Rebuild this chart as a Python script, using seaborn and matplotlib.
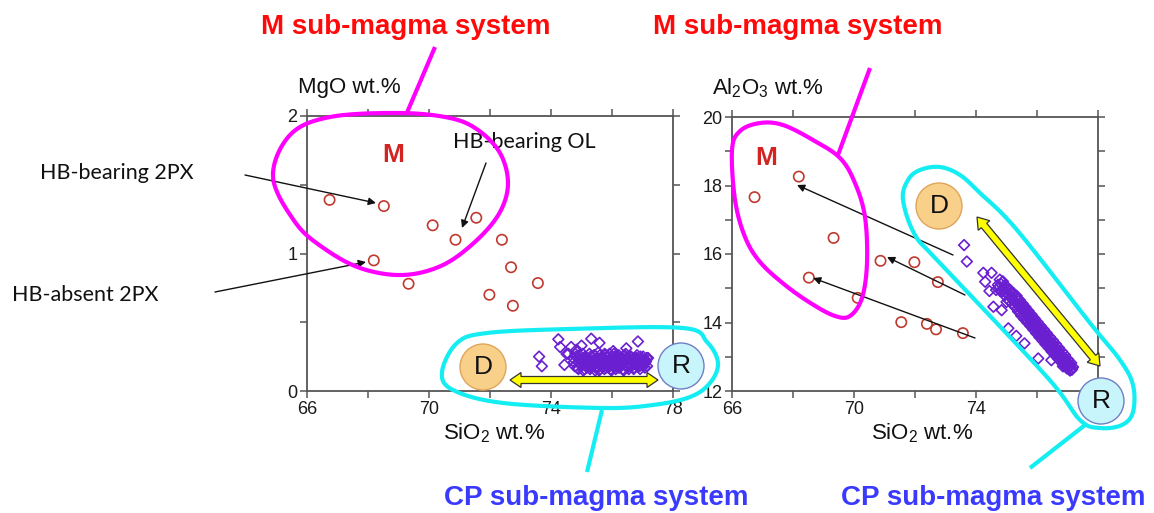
import numpy as np
import pandas as pd
import matplotlib
matplotlib.use("Agg")
import matplotlib.pyplot as plt
import seaborn as sns
from matplotlib.patches import Circle, Polygon
from matplotlib.lines import Line2D
from matplotlib.transforms import IdentityTransform

# ---------------------------------------------------------------- data
# M sub-magma system (open circles)
m_sio2 = [66.74, 68.19, 68.52, 69.33, 70.12, 70.87, 71.55, 71.98, 72.39, 72.69, 72.75, 73.57]
m_mgo = [1.39, 0.95, 1.345, 0.78, 1.205, 1.10, 1.26, 0.70, 1.10, 0.90, 0.62, 0.785]
m_al2o3 = [17.66, 18.26, 15.31, 16.47, 14.72, 15.80, 14.01, 15.76, 13.96, 13.80, 15.18, 13.69]

# CP sub-magma system (open diamonds)
cp_sio2 = [
    73.61, 73.70, 74.24, 74.51, 74.30, 74.44, 74.57, 74.84, 75.06, 75.32, 75.59, 76.04,
    76.85, 76.47, 77.08, 74.66, 75.00,
    74.72, 74.78, 74.80, 74.88, 74.90, 74.93, 75.00, 75.02, 75.06, 75.12, 75.15, 75.18,
    75.22, 75.26, 75.28, 75.33, 75.36, 75.38, 75.43, 75.46, 75.48, 75.53, 75.55, 75.58,
    75.62, 75.66, 75.68, 75.72, 75.75, 75.78, 75.82, 75.85, 75.88, 75.92, 75.95, 75.98,
    76.02, 76.05, 76.08, 76.12, 76.15, 76.18, 76.22, 76.25, 76.28, 76.32, 76.35, 76.38,
    76.42, 76.45, 76.48, 76.52, 76.55, 76.58, 76.62, 76.65, 76.68, 76.72, 76.75, 76.78,
    76.82, 76.85, 76.88, 76.92, 76.95, 76.98, 77.02, 77.05, 77.08, 77.12, 77.15, 77.18,
    74.75, 74.82, 74.86, 74.95, 74.97, 75.04, 75.09, 75.10, 75.17, 75.20, 75.24, 75.30,
    75.31, 75.35, 75.40, 75.41, 75.45, 75.50, 75.51, 75.57, 75.60, 75.61, 75.65, 75.70,
    75.71, 75.76, 75.80, 75.81, 75.86, 75.90, 75.91, 75.96, 76.00, 76.01, 76.06, 76.10,
    76.11, 76.16, 76.20, 76.21, 76.26, 76.30, 76.31, 76.36, 76.40, 76.41, 76.46, 76.50,
    76.51, 76.56, 76.60, 76.61, 76.66, 76.70, 76.71, 76.76, 76.80, 76.81, 76.86, 76.90,
    76.93, 76.97, 77.00, 77.03, 77.10, 77.14,
]
cp_mgo = [
    0.25, 0.18, 0.376, 0.27, 0.32, 0.19, 0.27, 0.30, 0.23, 0.38, 0.35, 0.29,
    0.36, 0.31, 0.22, 0.32, 0.33,
    0.24, 0.18, 0.27, 0.21, 0.16, 0.26, 0.19, 0.23, 0.15, 0.25, 0.20, 0.17,
    0.22, 0.27, 0.16, 0.19, 0.24, 0.21, 0.26, 0.17, 0.22, 0.20, 0.28, 0.15,
    0.23, 0.18, 0.25, 0.21, 0.16, 0.26, 0.19, 0.24, 0.17, 0.27, 0.20, 0.15,
    0.22, 0.18, 0.25, 0.16, 0.23, 0.20, 0.26, 0.17, 0.22, 0.19, 0.24, 0.15,
    0.21, 0.27, 0.18, 0.23, 0.16, 0.20, 0.25, 0.19, 0.22, 0.17, 0.24, 0.20,
    0.26, 0.18, 0.21, 0.16, 0.23, 0.19, 0.25, 0.20, 0.17, 0.22, 0.18, 0.24,
    0.21, 0.25, 0.17, 0.23, 0.19, 0.27, 0.21, 0.16, 0.24, 0.18, 0.20, 0.25,
    0.17, 0.22, 0.19, 0.26, 0.15, 0.23, 0.18, 0.21, 0.26, 0.16, 0.24, 0.19,
    0.22, 0.27, 0.17, 0.21, 0.25, 0.19, 0.23, 0.16, 0.24, 0.20, 0.27, 0.18,
    0.22, 0.25, 0.17, 0.21, 0.24, 0.19, 0.23, 0.16, 0.22, 0.26, 0.19, 0.24,
    0.17, 0.21, 0.18, 0.25, 0.22, 0.20, 0.16, 0.23, 0.19, 0.24, 0.21, 0.18,
    0.25, 0.20, 0.22, 0.18, 0.21, 0.24,
]
cp_al2o3 = [
    16.26, 15.78, 15.45, 15.45, 15.19, 14.92, 14.46, 14.36, 13.83, 13.61, 13.39, 12.95,
    12.72, 12.90, 12.61, 14.95, 14.60,
    15.10, 15.25, 14.92, 15.20, 14.98, 14.80, 15.05, 14.86, 14.66, 14.95, 14.74, 14.55,
    14.86, 14.62, 14.45, 14.78, 14.53, 14.32, 14.66, 14.44, 14.20, 14.55, 14.33, 14.10,
    14.45, 14.22, 14.00, 14.34, 14.10, 13.90, 14.23, 14.00, 13.79, 14.12, 13.89, 13.68,
    14.01, 13.78, 13.57, 13.90, 13.67, 13.47, 13.80, 13.57, 13.36, 13.69, 13.46, 13.26,
    13.58, 13.35, 13.15, 13.48, 13.25, 13.05, 13.37, 13.14, 12.95, 13.26, 13.03, 12.85,
    13.15, 12.93, 12.75, 13.05, 12.82, 12.66, 12.92, 12.72, 12.60, 12.82, 12.65, 12.70,
    15.02, 15.12, 14.90, 15.08, 14.88, 14.95, 14.80, 14.62, 14.85, 14.66, 14.50, 14.72,
    14.58, 14.40, 14.62, 14.48, 14.30, 14.48, 14.38, 14.20, 14.40, 14.28, 14.08, 14.28,
    14.18, 13.98, 14.16, 14.06, 13.90, 14.06, 13.96, 13.80, 13.92, 13.85, 13.68, 13.84,
    13.74, 13.58, 13.72, 13.63, 13.47, 13.62, 13.52, 13.36, 13.50, 13.42, 13.25, 13.40,
    13.31, 13.16, 13.28, 13.20, 13.04, 13.18, 13.08, 12.94, 13.06, 12.98, 12.84, 12.96,
    12.88, 12.74, 12.85, 12.66, 12.74, 12.62,
]

x_major = [66, 70, 74, 78]
x_minor = [68, 72, 76]
mgo_major = [0, 1, 2]
mgo_minor = [0.5, 1.5]
al_major = [12, 14, 16, 18, 20]
al_minor = [13, 15, 17, 19]

m_df = pd.DataFrame({"SiO2": m_sio2, "MgO": m_mgo, "Al2O3": m_al2o3})
cp_df = pd.DataFrame({"SiO2": cp_sio2, "MgO": cp_mgo, "Al2O3": cp_al2o3})

# ---------------------------------------------------------------- style
W, H = 1154, 513
sns.set_theme(style="ticks")
plt.rcParams["font.family"] = ["Liberation Sans", "DejaVu Sans"]
plt.rcParams["mathtext.fontset"] = "custom"
plt.rcParams["mathtext.rm"] = "Liberation Sans"
plt.rcParams["mathtext.it"] = "Liberation Sans:italic"
plt.rcParams["mathtext.default"] = "rm"

RED_PT = "#c0392f"
PURPLE = "#6a1fd0"
MAGENTA = "#ff00ff"
CYAN = "#14eef2"
TITLE_RED = "#ff0a0a"
TITLE_BLUE = "#3a3aff"
SPINE = "#555555"

fig = plt.figure(figsize=(W / 100, H / 100), dpi=100)
fig.patch.set_facecolor("white")


def fx(x):
    return x / W


def fy(y):
    return 1 - y / H


ax1 = fig.add_axes([fx(307), fy(391), 366 / W, 275 / H])
ax2 = fig.add_axes([fx(732), fy(391), 366 / W, 274 / H])


def style_axes(ax, ymajor, yminor, ylim, xlabels):
    ax.set_xlim(66, 78)
    ax.set_ylim(*ylim)
    ax.set_xticks(x_major)
    ax.set_xticklabels(xlabels)
    ax.set_xticks(x_minor, minor=True)
    ax.set_yticks(ymajor)
    ax.set_yticks(yminor, minor=True)
    ax.tick_params(which="both", direction="out", length=5, width=1.1,
                   color=SPINE, top=True, right=True, labelsize=13,
                   labelcolor="#1a1a1a", pad=2)
    for s in ax.spines.values():
        s.set_color(SPINE)
        s.set_linewidth(1.3)
    ax.set_xlabel("")
    ax.set_ylabel("")
    ax.set_facecolor("white")


# MgO vs SiO2
sns.scatterplot(data=m_df, x="SiO2", y="MgO", ax=ax1, marker="o", s=55,
                facecolor="none", edgecolor=RED_PT, linewidth=1.2, zorder=3)
sns.scatterplot(data=cp_df, x="SiO2", y="MgO", ax=ax1, marker="D", s=30,
                facecolor="none", edgecolor=PURPLE, linewidth=1.2, zorder=3)
style_axes(ax1, mgo_major, mgo_minor, (0, 2), ["66", "70", "74", "78"])

# Al2O3 vs SiO2 (the 78 label sits under the R end-member disc)
sns.scatterplot(data=m_df, x="SiO2", y="Al2O3", ax=ax2, marker="o", s=55,
                facecolor="none", edgecolor=RED_PT, linewidth=1.2, zorder=3)
sns.scatterplot(data=cp_df, x="SiO2", y="Al2O3", ax=ax2, marker="D", s=30,
                facecolor="none", edgecolor=PURPLE, linewidth=1.2, zorder=3)
style_axes(ax2, al_major, al_minor, (12, 20), ["66", "70", "74", ""])

# axis titles
fig.text(fx(298), fy(88), "MgO wt.%", fontsize=16, va="center", ha="left", color="#111")
fig.text(fx(712), fy(88), "Al$_2$O$_3$ wt.%", fontsize=16, va="center", ha="left", color="#111")
fig.text(fx(494), fy(433), "SiO$_2$ wt.%", fontsize=16, va="center", ha="center", color="#111")
fig.text(fx(922), fy(433), "SiO$_2$ wt.%", fontsize=16, va="center", ha="center", color="#111")

# group labels
for cx in (406, 798):
    fig.text(fx(cx), fy(34), "M sub-magma system", fontsize=20, fontweight="bold",
             color=TITLE_RED, ha="center", va="baseline")
for cx in (596, 993):
    fig.text(fx(cx), fy(505), "CP sub-magma system", fontsize=20, fontweight="bold",
             color=TITLE_BLUE, ha="center", va="baseline")

for (cx, cy) in ((393, 155), (766, 158)):
    fig.text(fx(cx), fy(cy), "M", fontsize=19, fontweight="bold", color="#d42323",
             ha="center", va="center")

# sample-type notes
note_font = ["Lato", "DejaVu Sans"]
fig.text(fx(40), fy(173), "HB-bearing 2PX", fontsize=15.5, family=note_font,
         ha="left", va="center", color="#111")
fig.text(fx(12), fy(295), "HB-absent 2PX", fontsize=15.5, family=note_font,
         ha="left", va="center", color="#111")
fig.text(fx(453), fy(142), "HB-bearing OL", fontsize=15.5, family=note_font,
         ha="left", va="center", color="#111")


def pointer(x0, y0, x1, y1):
    fig.add_artist(matplotlib.text.Annotation(
        "", xy=(x1, H - y1), xytext=(x0, H - y0), xycoords="figure pixels",
        textcoords="figure pixels",
        arrowprops=dict(arrowstyle="-|>", color="#111", lw=1.0,
                        mutation_scale=11, shrinkA=0, shrinkB=0)))


pointer(245, 175, 376, 203)
pointer(215, 292, 366, 262)
pointer(486, 163, 462, 228)
pointer(953, 255, 797, 185)
pointer(965, 295, 887, 257)
pointer(975, 338, 813, 278)


def closed_curve(pts, n=24):
    P = np.asarray(pts, float)
    m = len(P)
    t = np.linspace(0, 1, n, endpoint=False)[:, None]
    segs = []
    for i in range(m):
        p0, p1, p2, p3 = P[i - 1], P[i], P[(i + 1) % m], P[(i + 2) % m]
        segs.append(0.5 * (2 * p1 + (-p0 + p2) * t + (2 * p0 - 5 * p1 + 4 * p2 - p3) * t ** 2
                           + (-p0 + 3 * p1 - 3 * p2 + p3) * t ** 3))
    c = np.vstack(segs)
    return np.vstack([c, c[:1]])


def draw_px_line(xy, color, lw):
    xy = np.asarray(xy, float)
    fig.add_artist(Line2D(xy[:, 0] / W, 1 - xy[:, 1] / H, color=color, lw=lw,
                          solid_capstyle="butt", transform=fig.transFigure, zorder=5))


# magenta outlines (M sub-magma system)
mag_left = [(273, 177), (290, 135), (330, 117), (400, 113), (450, 118), (478, 130),
            (500, 153), (508, 183), (500, 212), (477, 240), (443, 265), (403, 275),
            (360, 268), (322, 247), (295, 222)]
mag_right = [(732, 150), (740, 131), (760, 123), (783, 125), (813, 140), (840, 158),
             (855, 183), (865, 217), (867, 263), (862, 298), (850, 316), (835, 316),
             (812, 304), (785, 285), (760, 262), (745, 237), (735, 200)]
draw_px_line(closed_curve(mag_left), MAGENTA, 3.0)
draw_px_line(closed_curve(mag_right), MAGENTA, 3.0)
draw_px_line([(435, 47), (406, 115)], MAGENTA, 3.0)
draw_px_line([(870, 68), (838, 155)], MAGENTA, 3.0)

# cyan outlines (CP sub-magma system)
cy_left = [(442, 372), (457, 343), (487, 333), (570, 329), (683, 328), (707, 342),
           (718, 363), (710, 383), (690, 397), (653, 405), (603, 408), (503, 403),
           (453, 390)]
cy_right = [(903, 200), (908, 180), (920, 170), (940, 167), (960, 175), (980, 193),
            (1017, 230), (1090, 323), (1120, 360), (1133, 385), (1133, 412),
            (1122, 425), (1100, 428), (1080, 420), (1047, 377), (940, 263), (915, 235)]
draw_px_line(closed_curve(cy_left), CYAN, 3.0)
draw_px_line(closed_curve(cy_right), CYAN, 3.0)
draw_px_line([(602, 410), (587, 472)], CYAN, 3.0)
draw_px_line([(1085, 425), (1030, 468)], CYAN, 3.0)


def end_member(cx, cy, label, face, edge):
    fig.add_artist(Circle((cx, H - cy), 23, transform=IdentityTransform(),
                          facecolor=face, edgecolor=edge, lw=1.0, zorder=6))
    fig.text(fx(cx), fy(cy), label, fontsize=19, ha="center", va="center",
             color="#111", zorder=7)


def double_arrow(x0, y0, x1, y1, shaft=3.5, head=7.5, hl=11):
    p0 = np.array([x0, H - y0], float)
    p1 = np.array([x1, H - y1], float)
    d = p1 - p0
    L = np.hypot(*d)
    u = d / L
    n = np.array([-u[1], u[0]])
    a = p0 + u * hl
    b = p1 - u * hl
    verts = [p0, a + n * head, a + n * shaft, b + n * shaft, b + n * head, p1,
             b - n * head, b - n * shaft, a - n * shaft, a - n * head]
    fig.add_artist(Polygon(verts, closed=True, transform=IdentityTransform(),
                           facecolor="#ffff00", edgecolor="#333", lw=0.9, zorder=6))


double_arrow(510, 380, 658, 380)
double_arrow(977, 217, 1100, 366)

end_member(483, 367, "D", "#f8d08a", "#e0a55a")
end_member(681, 366, "R", "#c8f4fb", "#6f7fc6")
end_member(939, 206, "D", "#f8d08a", "#e0a55a")
end_member(1101, 401, "R", "#c8f4fb", "#6f7fc6")

fig.savefig("out.png", dpi=100)
